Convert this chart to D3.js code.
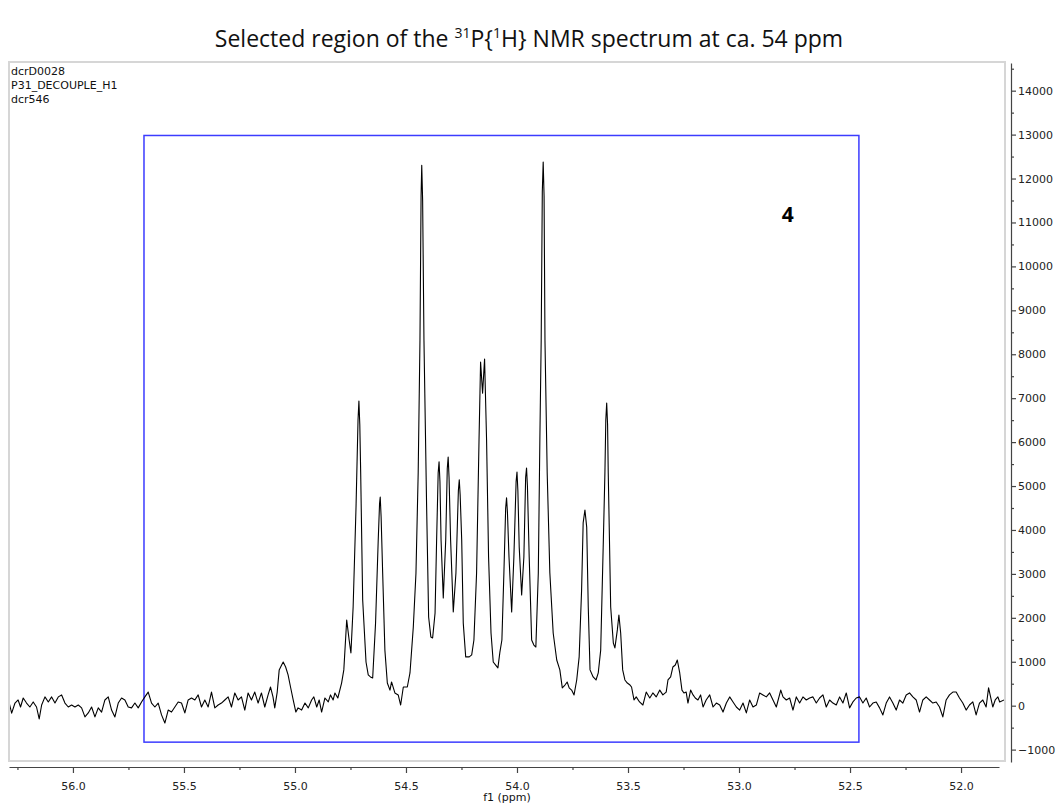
<!DOCTYPE html>
<html>
    <head>
        <!-- STYLE -->
        <style>
            body {
                margin: 0;
                background: #fff;
            }

            .axis text {
                font-family: "DejaVu Sans", Verdana, sans-serif;
                font-size: 11px;
                fill: #222;
            }

            .axis path,
            .axis line {
                stroke: #444;
                stroke-width: 1.2;
            }

            .header {
                font-family: "DejaVu Sans", Verdana, sans-serif;
                font-size: 11px;
                fill: #111;
            }
        </style>
        <meta charset="UTF-8">
        <title>31P{1H} NMR spectrum, 54 ppm region</title>
        <script type="text/javascript" src="https://cdnjs.cloudflare.com/ajax/libs/d3/7.9.0/d3.min.js"></script>
    </head>

    <body>
    <div id="plot"></div>

    <!-- JAVASCRIPT -->
    <script>
        // spectrum trace, [ppm, intensity]
        const spectrum = [
            [56.287, 60], [56.276, -170], [56.261, 60], [56.247, 130], [56.236, -30], [56.224, 175],
            [56.209, 60], [56.194, -30], [56.179, 85], [56.164, -30], [56.152, -300], [56.141, 15],
            [56.126, 200], [56.111, 85], [56.096, 200], [56.081, 60], [56.066, 200], [56.051, 245],
            [56.036, 60], [56.021, -30], [56.006, 15], [55.991, -30], [55.976, 15], [55.961, -50],
            [55.946, -255], [55.931, -165], [55.916, -30], [55.901, -255], [55.886, -50], [55.871, -145],
            [55.856, 130], [55.841, 200], [55.826, -100], [55.811, -255], [55.796, 60], [55.781, 175],
            [55.766, 130], [55.751, -30], [55.736, -50], [55.721, 60], [55.706, -50], [55.691, 85],
            [55.676, 200], [55.661, 310], [55.646, 60], [55.631, -30], [55.616, 60], [55.601, -210],
            [55.586, -395], [55.571, -100], [55.556, -145], [55.541, -30], [55.526, 85], [55.511, 60],
            [55.496, -165], [55.481, 130], [55.466, 175], [55.451, 130], [55.436, 245], [55.421, -30],
            [55.406, 130], [55.391, -30], [55.376, 310], [55.361, -50], [55.346, 15], [55.331, 60],
            [55.316, 130], [55.301, 200], [55.286, -30], [55.271, 290], [55.256, 130], [55.241, 200],
            [55.226, -100], [55.211, 290], [55.196, 130], [55.181, 310], [55.166, 60], [55.151, 290],
            [55.136, -30], [55.121, 245], [55.110, 425], [55.099, 200], [55.091, -50], [55.080, 310],
            [55.071, 815], [55.060, 925], [55.053, 995], [55.042, 880], [55.031, 700], [55.020, 425],
            [55.008, 130], [54.996, -145], [54.986, -50], [54.970, -100], [54.955, 60], [54.940, -50],
            [54.925, 130], [54.915, 200], [54.902, -30], [54.891, 130], [54.880, -145], [54.865, 175],
            [54.850, 85], [54.840, 245], [54.828, 130], [54.820, 290], [54.807, 175], [54.790, 515],
            [54.780, 815], [54.767, 1950], [54.756, 1495], [54.748, 1200], [54.738, 2245], [54.725, 4520],
            [54.716, 6500], [54.712, 6935], [54.708, 6400], [54.704, 5300], [54.695, 2405], [54.680, 995],
            [54.670, 700], [54.660, 655], [54.650, 630], [54.637, 1880], [54.625, 3770], [54.619, 4600],
            [54.616, 4750], [54.612, 4300], [54.605, 3020], [54.595, 1265],
            [54.584, 515], [54.572, 355], [54.565, 540], [54.550, 290], [54.535, 245], [54.524, 15],
            [54.512, 425], [54.494, 425], [54.482, 745], [54.467, 1790], [54.455, 3020], [54.445, 5300],
            [54.437, 8320], [54.432, 11600], [54.429, 12300], [54.425, 11500], [54.419, 8320],
            [54.407, 4520], [54.398, 2020], [54.388, 1565],
            [54.380, 1540], [54.369, 2110], [54.362, 3770], [54.355, 5300], [54.351, 5550], [54.347, 5100],
            [54.342, 3770], [54.332, 2450], [54.321, 3770], [54.314, 5400], [54.310, 5660], [54.306, 5200],
            [54.299, 3770], [54.287, 2135], [54.275, 3020], [54.264, 4900], [54.260, 5140], [54.256, 4800],
            [54.249, 3770], [54.242, 1880], [54.231, 1110], [54.215, 1110], [54.204, 1155], [54.194, 1495],
            [54.182, 3020], [54.171, 6050], [54.164, 7820], [54.155, 7115], [54.146, 7890], [54.137, 6050],
            [54.128, 3385], [54.117, 1655], [54.107, 995], [54.096, 925], [54.086, 860], [54.077, 1220],
            [54.068, 1495], [54.059, 3020], [54.051, 4500], [54.047, 4730], [54.043, 4400], [54.036, 3385],
            [54.024, 2135], [54.014, 3385], [54.004, 5100], [54.000, 5320], [53.996, 4900], [53.990, 3610],
            [53.979, 2520], [53.969, 3385], [53.961, 5200], [53.957, 5410], [53.953, 5000], [53.945, 3385],
            [53.934, 1495], [53.924, 1380], [53.915, 1335], [53.904, 3020], [53.897, 6050], [53.891, 8320],
            [53.886, 11700], [53.882, 12375], [53.878, 11600], [53.874, 8320], [53.864, 5300], [53.852, 3020],
            [53.837, 1655], [53.821, 1040],
            [53.807, 815], [53.796, 405], [53.784, 470], [53.774, 540], [53.765, 405], [53.754, 355],
            [53.743, 245], [53.731, 585], [53.720, 1110], [53.709, 2635], [53.702, 4160], [53.694, 4455],
            [53.686, 4065], [53.679, 2245], [53.671, 815], [53.657, 655], [53.644, 585], [53.634, 745],
            [53.623, 1265], [53.611, 3770], [53.604, 5300], [53.600, 6500], [53.596, 6890], [53.592, 6400],
            [53.589, 5300], [53.578, 2245],
            [53.566, 1425], [53.559, 1315], [53.548, 1725], [53.541, 2065], [53.533, 1655], [53.524, 815],
            [53.514, 585], [53.503, 515], [53.491, 470], [53.484, 425], [53.473, 130], [53.463, 200],
            [53.448, 85], [53.433, 15], [53.418, 310], [53.402, 175], [53.388, 290], [53.373, 200],
            [53.357, 355], [53.343, 245], [53.328, 310], [53.320, 585], [53.308, 655], [53.298, 880],
            [53.287, 925], [53.278, 1040], [53.267, 745], [53.257, 355], [53.248, 290], [53.238, 310],
            [53.230, 60], [53.218, 355], [53.207, 245], [53.197, 175], [53.185, 130], [53.173, 245],
            [53.162, -30], [53.148, 130], [53.132, 245], [53.117, -30], [53.102, 60], [53.087, 15],
            [53.072, -145], [53.057, 60], [53.042, 200], [53.027, 85], [53.012, -30], [52.997, -100],
            [52.982, 60], [52.967, -165], [52.952, 130], [52.937, -30], [52.922, 15], [52.907, 290],
            [52.892, 245], [52.877, 200], [52.862, 290], [52.847, 130], [52.832, -30], [52.812, 355],
            [52.802, 200], [52.787, 130], [52.772, 175], [52.757, -100], [52.742, 200], [52.727, 60],
            [52.712, 200], [52.697, 130], [52.682, 175], [52.667, 200], [52.652, 60], [52.637, 175],
            [52.622, 245], [52.607, -30], [52.592, 130], [52.577, 60], [52.562, 15], [52.547, 200],
            [52.532, 60], [52.517, 290], [52.502, -50], [52.487, 85], [52.472, 175], [52.457, 200],
            [52.442, 60], [52.427, 175], [52.412, -30], [52.397, 60], [52.382, 85], [52.367, -50],
            [52.352, -210], [52.337, 60], [52.322, 200], [52.307, 60], [52.292, -100], [52.277, 130],
            [52.262, 60], [52.247, 245], [52.232, 290], [52.217, 200], [52.202, 130], [52.187, -145],
            [52.172, 130], [52.157, 200], [52.142, 130], [52.127, 60], [52.112, 85], [52.097, -30],
            [52.082, -255], [52.067, 130], [52.052, 245], [52.037, 310], [52.022, 310], [52.007, 175],
            [51.992, 60], [51.977, -100], [51.962, 15], [51.947, 85], [51.932, -210], [51.917, 60],
            [51.902, 130], [51.887, -30], [51.876, 405], [51.864, 130], [51.857, -30], [51.846, 130],
            [51.834, 200], [51.826, 85], [51.806, 130]
        ];

        // axis ticks
        const xMajorTicks = [56.0, 55.5, 55.0, 54.5, 54.0, 53.5, 53.0, 52.5, 52.0];
        const xMinorTicks = [56.25, 55.75, 55.25, 54.75, 54.25, 53.75, 53.25, 52.75, 52.25];
        const yMajorTicks = [-1000, 0, 1000, 2000, 3000, 4000, 5000, 6000, 7000, 8000,
                             9000, 10000, 11000, 12000, 13000, 14000];
        const yMinorTicks = [-500, 500, 1500, 2500, 3500, 4500, 5500, 6500, 7500, 8500,
                             9500, 10500, 11500, 12500, 13500, 14500];

        // text bits
        const headerLines = ["dcrD0028", "P31_DECOUPLE_H1", "dcr546"];
        const xLabel = "f1 (ppm)";

        // selected region box and compound label, in data units
        const regionPpm = [55.68, 52.46];
        const regionIntensity = [-830, 12980];
        const compoundLabel = "4";
        const compoundPos = [52.78, 11010];

        // layout
        const W = 1058, H = 807;
        const frame = {left: 9, right: 1005, top: 62, bottom: 761};

        const svg = d3.select("#plot")
            .append("svg")
                .attr("width", W)
                .attr("height", H);

        // scales
        const xScale = d3.scaleLinear()
            .domain([56.288, 51.802])
            .range([frame.left, frame.right]);
        const yScale = d3.scaleLinear()
            .domain([-1282, 14630])
            .range([762, 63]);

        // title with superscripts
        const title = svg.append("text")
            .attr("x", 529)
            .attr("y", 47)
            .attr("text-anchor", "middle")
            .style("font-family", "'Open Sans', 'Noto Sans', sans-serif")
            .style("font-size", "23px")
            .style("fill", "#111");
        title.append("tspan").text("Selected region of the ");
        title.append("tspan").attr("dy", -9).style("font-size", "14px").text("31");
        title.append("tspan").attr("dy", 9).text("P{");
        title.append("tspan").attr("dy", -9).style("font-size", "14px").text("1");
        title.append("tspan").attr("dy", 9).text("H} NMR spectrum at ca. 54 ppm");

        // plot frame
        svg.append("rect")
            .attr("x", frame.left)
            .attr("y", frame.top)
            .attr("width", frame.right - frame.left)
            .attr("height", frame.bottom - frame.top)
            .attr("fill", "none")
            .attr("stroke", "#d6d6d6")
            .attr("stroke-width", 2);

        // header text, top-left
        svg.append("g")
            .selectAll("text")
            .data(headerLines)
            .enter()
            .append("text")
                .attr("class", "header")
                .attr("x", 11)
                .attr("y", (d, i) => 75 + i * 14)
                .text(d => d);

        // region box
        svg.append("rect")
            .attr("x", xScale(regionPpm[0]))
            .attr("y", yScale(regionIntensity[1]))
            .attr("width", xScale(regionPpm[1]) - xScale(regionPpm[0]))
            .attr("height", yScale(regionIntensity[0]) - yScale(regionIntensity[1]))
            .attr("fill", "none")
            .attr("stroke", "#3c3cff")
            .attr("stroke-width", 1.5);

        // clip for trace
        svg.append("clipPath")
            .attr("id", "clip")
            .append("rect")
                .attr("x", frame.left + 1)
                .attr("y", frame.top + 1)
                .attr("width", frame.right - frame.left - 2)
                .attr("height", frame.bottom - frame.top - 2);

        const line = d3.line()
            .x(d => xScale(d[0]))
            .y(d => yScale(d[1]));

        svg.append("path")
            .datum(spectrum)
            .attr("clip-path", "url(#clip)")
            .attr("d", line)
            .attr("fill", "none")
            .attr("stroke", "#000")
            .attr("stroke-width", 1.1)
            .attr("stroke-linejoin", "round");

        // compound number
        svg.append("text")
            .attr("x", xScale(compoundPos[0]))
            .attr("y", yScale(compoundPos[1]))
            .attr("text-anchor", "middle")
            .style("font-family", "'Open Sans', 'Noto Sans', sans-serif")
            .style("font-weight", "bold")
            .style("font-size", "21px")
            .text(compoundLabel);

        // x axis (drawn slightly shorter than the frame, like the original)
        const xAxisScale = xScale.copy()
            .domain([xScale.domain()[0], xScale.invert(999)])
            .range([frame.left, 999]);

        svg.append("g")
            .attr("class", "axis")
            .attr("transform", "translate(0,767)")
            .call(d3.axisBottom(xAxisScale)
                .tickValues(xMajorTicks)
                .tickFormat(d3.format(".1f"))
                .tickSize(6)
                .tickPadding(9)
                .tickSizeOuter(0));

        svg.append("g")
            .attr("class", "axis")
            .attr("transform", "translate(0,767)")
            .call(d3.axisBottom(xAxisScale)
                .tickValues(xMinorTicks)
                .tickFormat("")
                .tickSize(3)
                .tickSizeOuter(0))
            .call(g => g.select(".domain").remove());

        svg.append("text")
            .attr("class", "header")
            .attr("x", (frame.left + frame.right) / 2)
            .attr("y", 801)
            .attr("text-anchor", "middle")
            .text(xLabel);

        // y axis on the right
        svg.append("g")
            .attr("class", "axis")
            .attr("transform", "translate(1011,0)")
            .call(d3.axisRight(yScale)
                .tickValues(yMajorTicks)
                .tickFormat(d3.format("d"))
                .tickSize(5)
                .tickPadding(2)
                .tickSizeOuter(0));

        svg.append("g")
            .attr("class", "axis")
            .attr("transform", "translate(1011,0)")
            .call(d3.axisRight(yScale)
                .tickValues(yMinorTicks)
                .tickFormat("")
                .tickSize(3)
                .tickSizeOuter(0))
            .call(g => g.select(".domain").remove());
    </script>
  </body>
</html>
